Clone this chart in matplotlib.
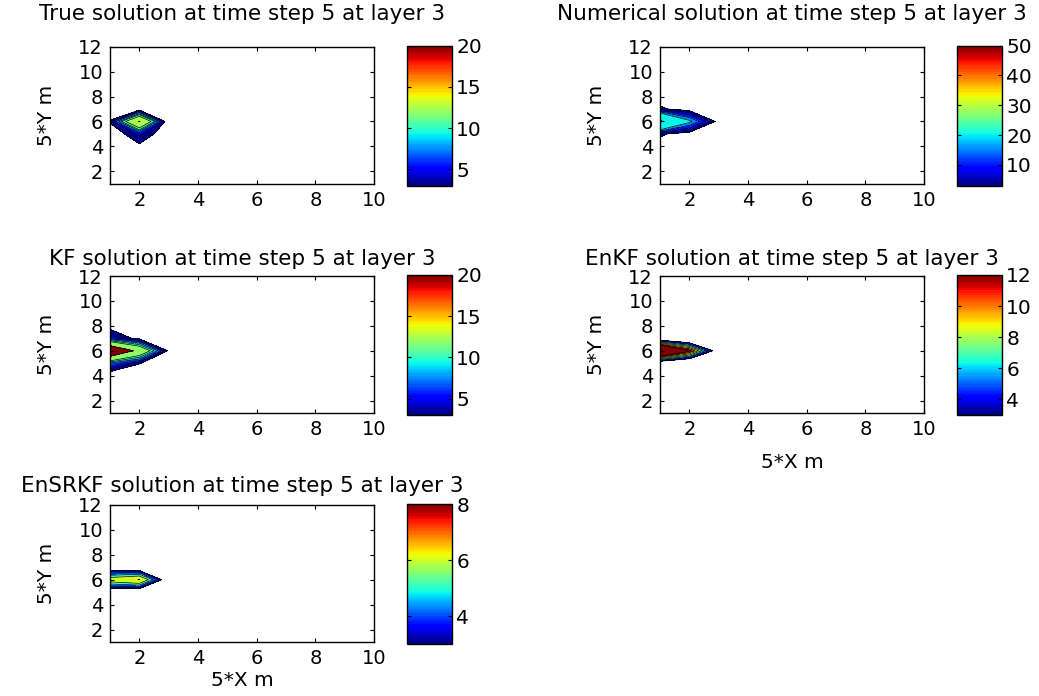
import numpy as np
import matplotlib
matplotlib.use('Agg')
import matplotlib.pyplot as plt
from matplotlib.colors import Normalize
from matplotlib.cm import ScalarMappable

# model grid (5 m cells)
x = np.arange(1, 11)
y = np.arange(1, 13)

# the plume only occupies a small patch of the grid, everything else is zero
patch_x = [1, 2, 3]
patch_y = [4, 5, 6, 7, 8]

# rows go with patch_y, columns with patch_x
true_patch = [
    [0.0, 2.5, 0.0],
    [1.0, 5.0, 1.0],
    [3.3, 20.5, 0.4],
    [0.0, 1.2, 0.0],
    [0.0, 0.0, 0.0],
]
num_patch = [
    [0.0, 0.0, 0.0],
    [4.0, 0.0, 0.0],
    [53.0, 22.0, 0.4],
    [4.0, 0.0, 0.0],
    [0.0, 0.0, 0.0],
]
kf_patch = [
    [0.6, 0.0, 0.0],
    [8.0, 3.2, 0.0],
    [29.7, 17.6, 2.5],
    [5.5, 2.1, 0.0],
    [2.0, 0.0, 0.0],
]
enkf_patch = [
    [0.0, 0.0, 0.0],
    [-0.5, -2.5, 0.0],
    [22.0, 12.8, 0.6],
    [-0.5, -2.5, 0.0],
    [0.0, 0.0, 0.0],
]
ensrkf_patch = [
    [0.0, 0.0, 0.0],
    [1.2, 1.0, 0.0],
    [7.0, 8.05, 1.4],
    [1.5, 1.13, 0.0],
    [0.0, 0.0, 0.0],
]

true_levels = [3, 4.5, 6.5, 8.5, 10, 12.5, 20]
num_levels = [3, 6, 10, 15, 20, 50]
kf_levels = [3, 4.5, 6, 8, 10, 12, 20]
enkf_levels = [3, 4.5, 6, 7.5, 9, 10.5, 12]
ensrkf_levels = [3, 4, 5, 6, 8]

true_ticks = [5, 10, 15, 20]
num_ticks = [10, 20, 30, 40, 50]
kf_ticks = [5, 10, 15, 20]
enkf_ticks = [4, 6, 8, 10, 12]
ensrkf_ticks = [4, 6, 8]

panels = [
    ('True', true_patch, true_levels, true_ticks, (0, 0), False),
    ('Numerical', num_patch, num_levels, num_ticks, (0, 1), False),
    ('KF', kf_patch, kf_levels, kf_ticks, (1, 0), False),
    ('EnKF', enkf_patch, enkf_levels, enkf_ticks, (1, 1), True),
    ('EnSRKF', ensrkf_patch, ensrkf_levels, ensrkf_ticks, (2, 0), True),
]

W, H = 1039, 696
col_ax = [110, 660]
col_cb = [407, 957]
row_top = [46.7, 276, 505]
title_pad = [19, 8, 9]
xlabel_pad = [10, 10, 2]
ax_w, ax_h = 264, 137
cb_w = 45

jet = plt.get_cmap('jet', 64)
plt.rcParams['font.family'] = 'DejaVu Sans'

fig = plt.figure(figsize=(W / 100, H / 100), dpi=100)

X, Y = np.meshgrid(x, y)

for name, patch, levels, ticks, (r, c), xlab in panels:
    Z = np.zeros((len(y), len(x)))
    Z[patch_y[0] - 1:patch_y[-1], patch_x[0] - 1:patch_x[-1]] = patch
    norm = Normalize(vmin=levels[0], vmax=levels[-1])

    top = row_top[r]
    ax = fig.add_axes([col_ax[c] / W, 1 - (top + ax_h) / H, ax_w / W, ax_h / H])
    fills = [jet(norm(v)) for v in levels]
    ax.contourf(X, Y, Z, levels=levels, colors=fills, extend='max')
    ax.contour(X, Y, Z, levels=levels, colors='k', linewidths=0.5)
    ax.set_xlim(1, 10)
    ax.set_ylim(1, 12)
    ax.set_xticks([2, 4, 6, 8, 10])
    ax.set_yticks([2, 4, 6, 8, 10, 12])
    ax.tick_params(direction='in', top=True, right=True, length=3, width=0.8,
                   labelsize=14, pad=5)
    for s in ax.spines.values():
        s.set_linewidth(1.0)
    ax.set_title(f'{name} solution at time step 5 at layer 3', fontsize=15.5,
                 pad=title_pad[r])
    ax.set_ylabel('5*Y m', fontsize=14.5, labelpad=16)
    if xlab:
        ax.set_xlabel('5*X m', fontsize=14.5, labelpad=xlabel_pad[r])

    cax = fig.add_axes([col_cb[c] / W, 1 - (top - 1 + 140) / H, cb_w / W, 140 / H])
    sm = ScalarMappable(norm=norm, cmap=jet)
    cb = fig.colorbar(sm, cax=cax, ticks=ticks)
    cb.outline.set_linewidth(1.0)
    cax.tick_params(direction='in', left=True, right=True, length=3, width=0.8,
                    labelsize=14.5, pad=3)

fig.savefig('out.png', dpi=100)
